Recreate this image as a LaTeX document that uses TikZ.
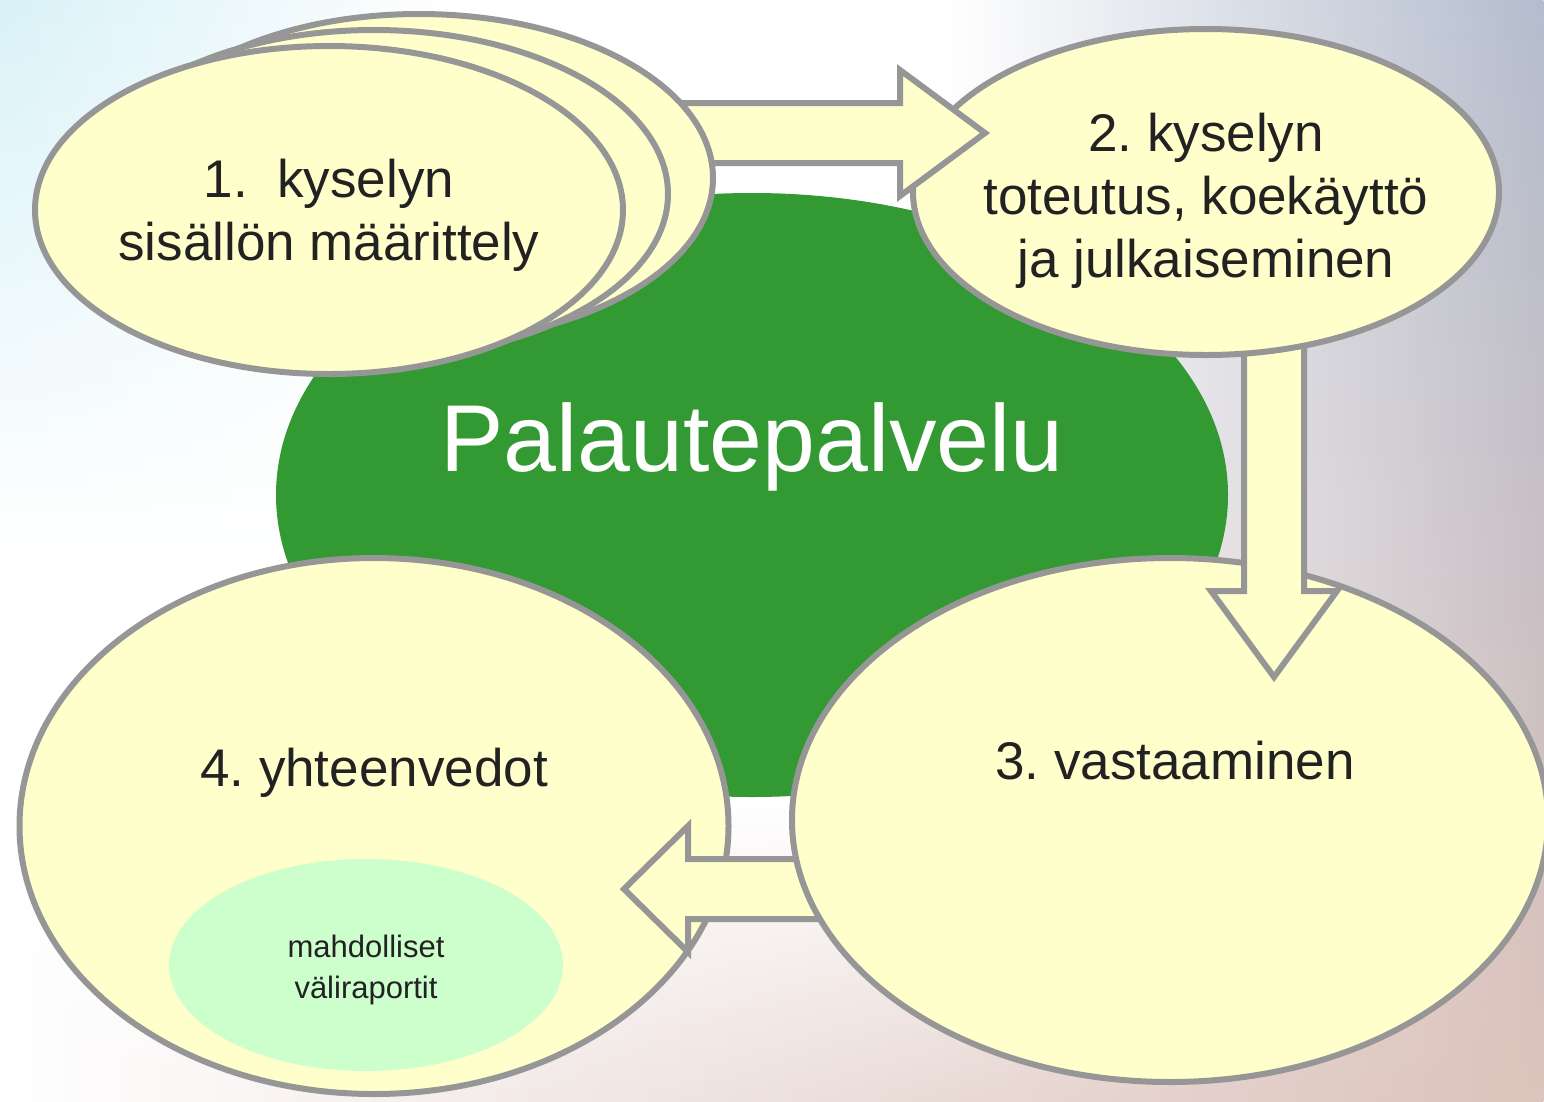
\documentclass[tikz,border=0pt]{standalone}
\usepackage{fontspec}
\setmainfont{Liberation Sans}
\usetikzlibrary{shapes.geometric,calc,fadings}
\definecolor{bubblefill}{HTML}{FFFFCC}
\definecolor{edgegray}{HTML}{969696}
\definecolor{palgreen}{HTML}{339933}
\definecolor{notegreen}{HTML}{CCFFCC}
\definecolor{textdark}{HTML}{222222}
\definecolor{bgcyan}{HTML}{D9F2F8}
\definecolor{bggray}{HTML}{B4BDCE}
\definecolor{bgpeach}{HTML}{F1C7AB}
\definecolor{bgrose}{HTML}{DCC3BC}
\definecolor{bgbot}{HTML}{CFC4CA}
\tikzfading[name=fadetoright, left color=transparent!0, right color=transparent!100]
\tikzfading[name=fadetoleft, left color=transparent!100, right color=transparent!0]
\tikzfading[name=fadetotop, top color=transparent!100, bottom color=transparent!0]
\tikzset{
  bubble/.style={ellipse, draw=edgegray, line width=6pt, fill=bubblefill, inner sep=0pt},
  bubbletext/.style={align=center, text=textdark, font=\fontsize{53}{63}\selectfont},
  blockarrow/.style={draw=edgegray, line width=6pt, fill=bubblefill},
}
\frenchspacing
% block arrow: start, tip, head length
\newcommand{\blockarr}[3]{%
  \coordinate (hb) at ($(#2)!#3!(#1)$);
  \filldraw[blockarrow] ($(#1)!30pt!90:(#2)$) -- ($(hb)!30pt!90:(#2)$)
    -- ($(hb)!63pt!90:(#2)$) -- (#2) -- ($(hb)!63pt!-90:(#2)$)
    -- ($(hb)!30pt!-90:(#2)$) -- ($(#1)!30pt!-90:(#2)$) -- cycle;
}
\begin{document}
\begin{tikzpicture}[x=1pt, y=-1pt]
\clip (0,0) rectangle (1544,1101);
\fill[white] (0,0) rectangle (1544,1101);
\shade[top color=bgcyan, bottom color=white, path fading=fadetoright] (0,0) rectangle (450,550);
\shade[top color=bggray, middle color=bgpeach, bottom color=bgrose, path fading=fadetoleft] (950,0) rectangle (1544,1101);
\shade[left color=white, middle color=bgbot, right color=bgrose, path fading=fadetotop] (0,800) rectangle (1544,1101);

\node[ellipse, fill=palgreen, minimum width=952pt, minimum height=604pt] (pal) at (752,495) {};
\node[text=white, font=\fontsize{95}{100}\selectfont] (paltext) at (752,447) {Palautepalvelu};

\node[bubble, minimum width=709pt, minimum height=536pt] (s4) at (374,826) {};
\node[ellipse, fill=notegreen, minimum width=394pt, minimum height=212pt] (note) at (366,965) {};
\node[bubbletext] (s4text) at (374,773) {4. yhteenvedot};
\node[align=center, text=textdark, font=\fontsize{31}{41}\selectfont] (notetext) at (366,970) {mahdolliset\\väliraportit};

\coordinate (a34s) at (830,889);
\coordinate (a34t) at (624,889);
\blockarr{a34s}{a34t}{64pt}

\node[bubble, minimum width=756pt, minimum height=524pt] (s3) at (1170,820) {};
\node[bubbletext] (s3text) at (1175,761) {3. vastaaminen};

\coordinate (a23s) at (1274,330);
\coordinate (a23t) at (1274,677);
\blockarr{a23s}{a23t}{86pt}

\node[bubble, minimum width=586pt, minimum height=326pt] (s2) at (1206,192) {};
\node[bubbletext] (s2text) at (1206,201) {2. kyselyn\\toteutus, koekäyttö\\ja julkaiseminen};

\coordinate (a12s) at (600,133);
\coordinate (a12t) at (985,133);
\blockarr{a12s}{a12t}{85pt}

\node[bubble, minimum width=588pt, minimum height=328pt] (s1c) at (419,178) {};
\node[bubble, minimum width=588pt, minimum height=328pt] (s1b) at (374,194) {};
\node[bubble, minimum width=588pt, minimum height=328pt] (s1a) at (329,210) {};
\node[bubbletext] (s1text) at (329,215) {1.~~kyselyn\\sisällön määrittely};
\end{tikzpicture}
\end{document}
